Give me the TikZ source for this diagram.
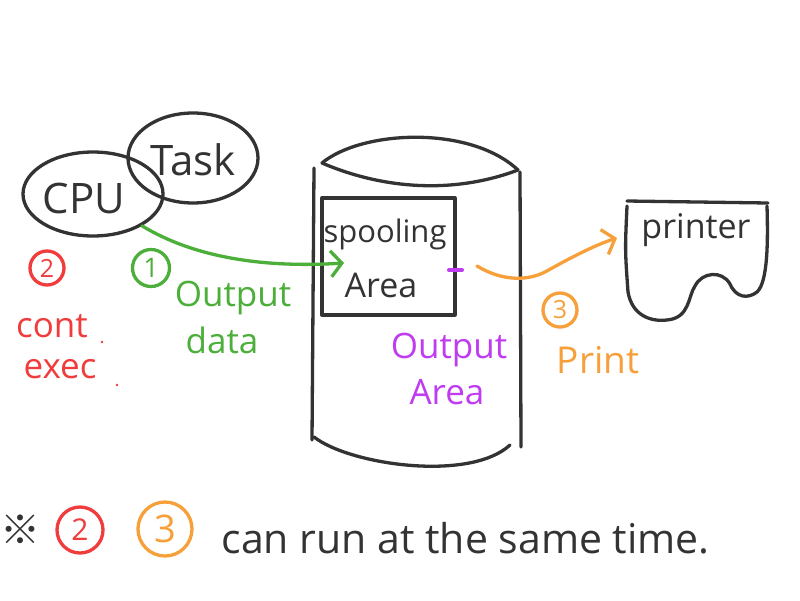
\documentclass[tikz,border=0pt]{standalone}
\usepackage{fontspec}
\setmainfont{Open Sans}
\newfontfamily\cjk{Noto Sans CJK SC}
\usetikzlibrary{arrows.meta,shapes.geometric}
\definecolor{ink}{HTML}{333333}
\definecolor{cred}{HTML}{F03C3C}
\definecolor{cgreen}{HTML}{4CAF3A}
\definecolor{corange}{HTML}{F7A03A}
\definecolor{cpurple}{HTML}{C03CF0}
\begin{document}
\begin{tikzpicture}[x=1pt,y=-1pt,line width=3.3pt,line cap=round,line join=round,
  hand/.style={font=\fontsize{#1}{#1}\selectfont,inner sep=0pt},
  oval/.style={draw=ink,ellipse,inner sep=0pt},
  circnum/.style={draw=#1,text=#1,circle,inner sep=0pt},
  barb/.style={-{Straight Barb[length=11pt,width=26pt]}}]
\useasboundingbox[fill=white] (0,0) rectangle (800,600);

% CPU and Task
\node[oval,minimum width=140pt,minimum height=84pt] (cpu) at (93,194) {};
\node[oval,minimum width=130pt,minimum height=90pt] (task) at (193,158) {};
\node[hand=42,text=ink] (cputxt) at (84,198) {CPU};
\node[hand=42,text=ink] (tasktxt) at (193,160) {Task};

% cylinder
\coordinate (tl) at (322,163);
\coordinate (tr) at (518,170);
\draw[ink] (tl) .. controls (362,130) and (470,125) .. (tr);
\draw[ink] (tl) .. controls (390,192) and (460,192) .. (tr);
\coordinate (l1) at (314,168); \coordinate (l2) at (312,440);
\coordinate (r1) at (520,172); \coordinate (r2) at (521,447);
\draw[ink] (l1) -- (l2);
\draw[ink] (r1) -- (r2);
\coordinate (b1) at (314,437); \coordinate (b2) at (510,445);
\draw[ink] (b1) .. controls (350,465) and (470,482) .. (b2);

% spooling area
\node[draw=ink,minimum width=133pt,minimum height=117pt,inner sep=0pt] (spool) at (388.5,256.5) {};
\node[hand=31,text=ink] (sptxt1) at (385,234) {spooling};
\node[hand=34,text=ink] (sptxt2) at (381,285) {Area};
\coordinate (pd1) at (449,270); \coordinate (pd2) at (462,270);
\draw[cpurple,line width=4pt] (pd1) -- (pd2);
\node[hand=35,text=cpurple] (oa1) at (449,350) {Output};
\node[hand=35,text=cpurple] (oa2) at (447,392) {Area};

% green arrow
\coordinate (gs) at (cpu.-33);
\coordinate (gt) at (344,263);
\draw[cgreen,barb] (gs) .. controls (195,258) and (265,268) .. (gt);
\node[circnum=cgreen,minimum size=37pt,hand=27] (n1) at (151,268) {1};
\node[hand=35,text=cgreen] (od1) at (233,298) {Output};
\node[hand=35,text=cgreen] (od2) at (222,340) {data};

% red
\node[circnum=cred,minimum size=34pt,hand=25] (n2) at (47,268) {2};
\node[hand=35,text=cred] (ce1) at (52,326) {cont};
\node[hand=35,text=cred] (ce2) at (60,369) {exec};
\fill[cred] (102,342) circle (1.3pt);
\fill[cred] (117,385) circle (1.3pt);

% orange arrow
\coordinate (os) at (477,266);
\coordinate (om) at (545,272);
\coordinate (ot) at (617,238);
\draw[corange,barb] (os) .. controls (500,280) and (525,282) .. (om) .. controls (570,258) and (595,245) .. (ot);
\node[circnum=corange,minimum size=34pt,hand=25] (n3) at (560,310) {3};
\node[hand=37,text=corange] (pr) at (598,360) {Print};

% printer
\coordinate (p1) at (627,201); \coordinate (p2) at (768,203);
\draw[ink] (p1) -- (p2);
\draw[ink] (627,206) .. controls (625,250) .. (628,292) .. controls (632,315) and (650,322) .. (667,320)
  .. controls (690,318) and (688,296) .. (695,286) .. controls (702,272) and (722,270) .. (730,284)
  .. controls (736,298) and (748,299) .. (757,292) .. controls (768,282) and (768,240) .. (767,206);
\node[hand=34,text=ink] (prtxt) at (696,230) {printer};

% bottom note
\node[hand=40,text=ink] (ref) at (20,530) {\cjk ※};
\node[circnum=cred,minimum size=46pt,hand=30] (b2c) at (80,530) {2};
\node[circnum=corange,minimum size=54pt,hand=38] (b3c) at (165,529) {3};
\node[hand=41,text=ink,anchor=west] (note) at (220,538) {can run at the same time.};
\end{tikzpicture}
\end{document}
